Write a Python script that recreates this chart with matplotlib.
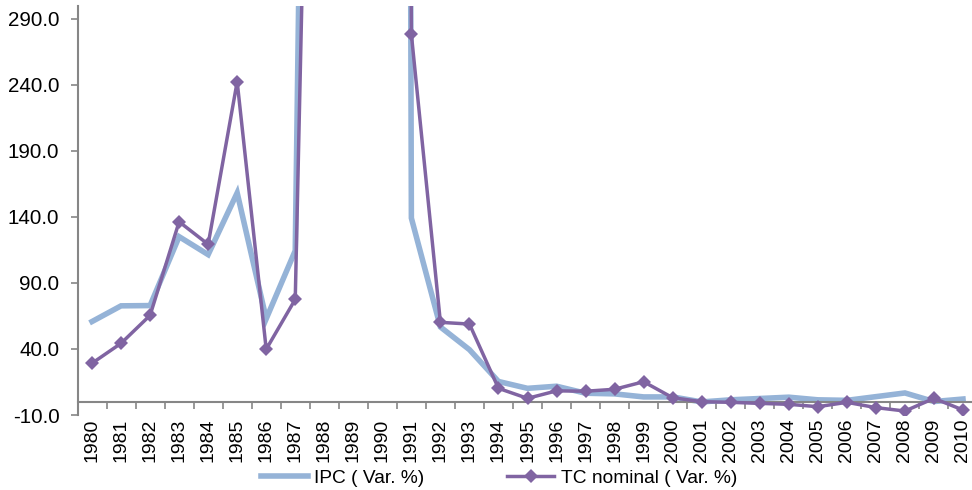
"""
Inflation (IPC) and nominal exchange rate (TC) yearly variation, 1980-2010.
"""
import matplotlib
matplotlib.use("Agg")
import matplotlib.pyplot as plt

years = [str(y) for y in range(1980, 2011)]

# IPC yearly variation (%)
ipc_var = [60.8, 72.7, 72.9, 125.1, 111.5, 158.3, 62.9, 114.5, 1722.3, 2775.3,
           7649.6, 139.2, 56.7, 39.5, 15.4, 10.2, 11.8, 6.5, 6.0, 3.7,
           3.7, -0.1, 1.5, 2.5, 3.5, 1.5, 1.1, 3.9, 6.7, 0.2, 2.1]

# Nominal exchange rate yearly variation (%)
tc_var = [29.2, 44.3, 65.5, 136.4, 119.3, 242.5, 39.8, 77.6, 1070.0, 2000.0,
          4900.0, 278.4, 60.2, 58.9, 10.2, 2.6, 8.3, 8.0, 9.5, 15.2,
          3.1, 0.1, -0.4, -1.2, -1.9, -3.7, -0.4, -4.4, -7.0, 2.6, -6.2]

ipc_label = "IPC ( Var. %)"
tc_label = "TC nominal ( Var. %)"

y_ticks = [-10, 40, 90, 140, 190, 240, 290]

IPC_COLOR = "#95B3D7"
TC_COLOR = "#8064A2"
AXIS_COLOR = "#868686"


def plot_variations(output_path):
    plt.rcParams["font.family"] = ["Liberation Sans", "DejaVu Sans"]

    fig = plt.figure(figsize=(9.72, 4.90), dpi=100)
    W, H = 972.0, 490.0
    ax = fig.add_axes([77.5 / W, 75 / H, 900 / W, 409.2 / H])

    x = list(range(len(years)))
    ax.plot(x, ipc_var, color=IPC_COLOR, lw=4.0, solid_joinstyle="miter",
            label=ipc_label, zorder=2)
    ax.plot(x, tc_var, color=TC_COLOR, lw=2.5, marker="D", markersize=7.5,
            markeredgewidth=0, label=tc_label, zorder=3)

    ax.set_xlim(-0.5, len(years) - 0.5)
    ax.set_ylim(-10, 300)

    # category axis crosses the value axis at zero
    for side in ("top", "right"):
        ax.spines[side].set_visible(False)
    ax.spines["bottom"].set_position(("data", 0))
    ax.spines["bottom"].set_color(AXIS_COLOR)
    ax.spines["left"].set_color(AXIS_COLOR)
    ax.spines["bottom"].set_linewidth(1.5)
    ax.spines["left"].set_linewidth(1.5)

    ax.set_yticks(y_ticks)
    ax.set_yticklabels([f"{v:.1f}" for v in y_ticks], fontsize=14.8)
    ax.tick_params(axis="y", length=5, width=1.2, color=AXIS_COLOR, pad=8)

    # labels at category centres, tick marks between categories
    ax.set_xticks(x)
    ax.set_xticklabels(years, rotation=90, fontsize=14)
    ax.set_xticks([i - 0.5 for i in range(len(years) + 1)], minor=True)
    ax.tick_params(axis="x", which="major", length=0, pad=12)
    ax.tick_params(axis="x", which="minor", length=5, width=1.2,
                   color=AXIS_COLOR)

    fig.legend(loc="center", bbox_to_anchor=(499 / W, 12 / H), ncol=2,
               frameon=False, fontsize=13.8, handlelength=2.45,
               handletextpad=0.36, columnspacing=4.3, borderaxespad=0)

    fig.savefig(output_path, dpi=100)
    plt.close(fig)


def main():
    plot_variations("out.png")


if __name__ == "__main__":
    main()
